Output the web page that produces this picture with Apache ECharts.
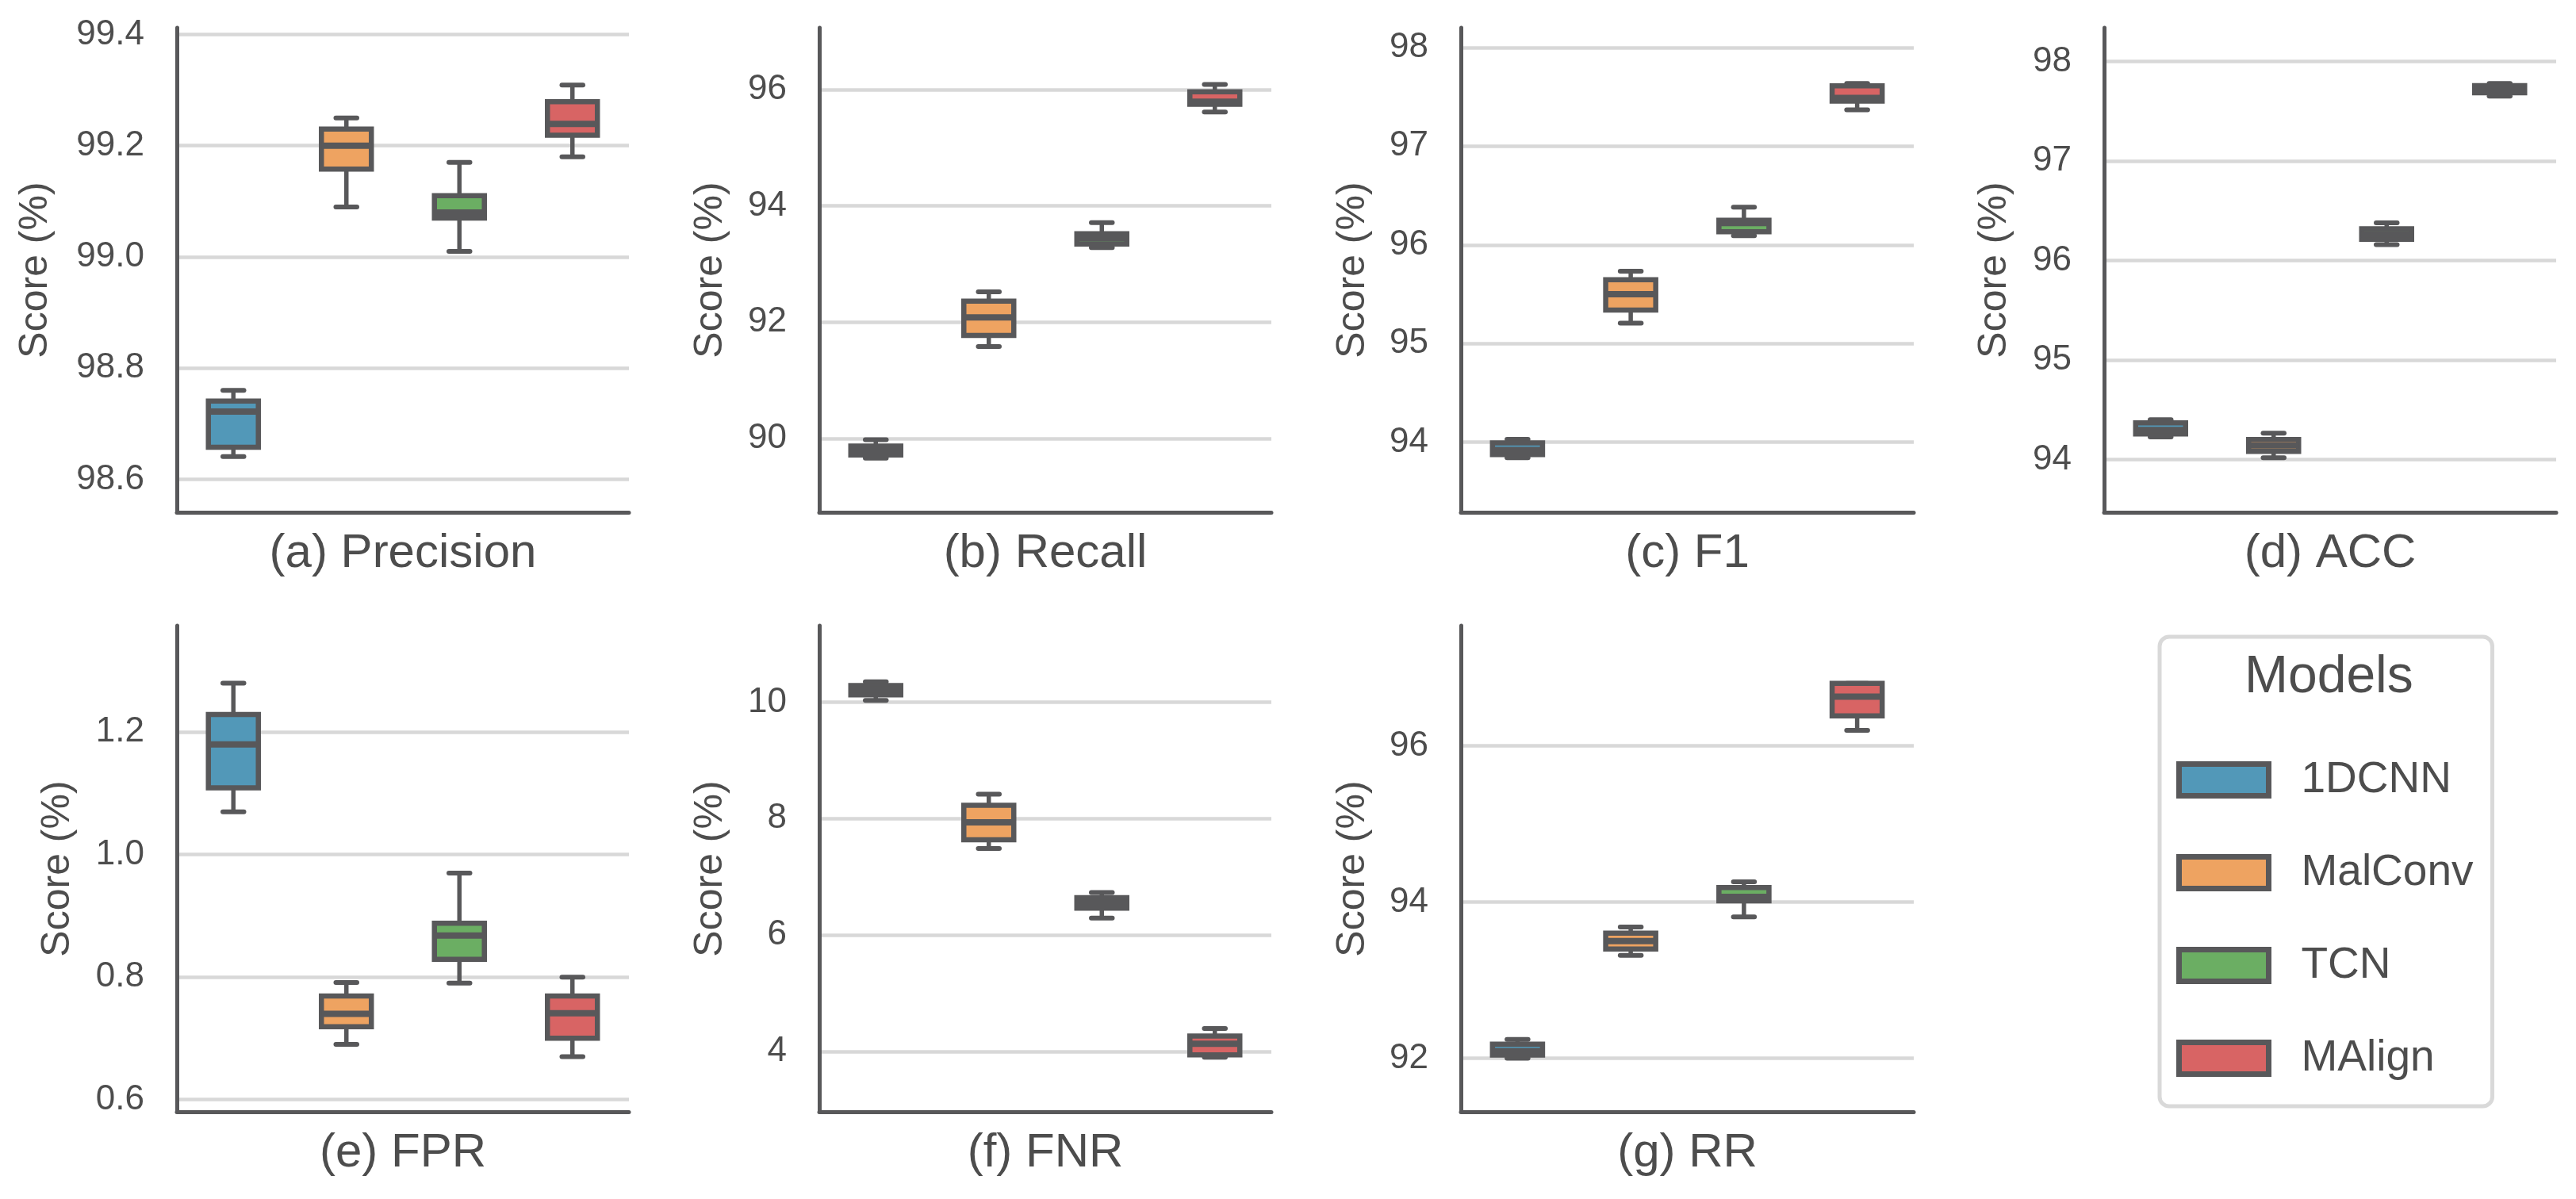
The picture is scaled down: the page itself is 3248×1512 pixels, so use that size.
<!DOCTYPE html>
<html><head><meta charset="utf-8">
<script src="https://cdn.jsdelivr.net/npm/echarts@6/dist/echarts.min.js"></script>
<style>html,body{margin:0;padding:0;background:#fff}#c{width:3248px;height:1512px}</style>
</head><body><div id="c"></div>
<script>
// ---------- DATA ----------
const models = ['1DCNN', 'MalConv', 'TCN', 'MAlign'];
// each row: [low whisker, Q1, median, Q3, high whisker]
const precision = [
  [98.641, 98.658, 98.722, 98.741, 98.760],
  [99.090, 99.158, 99.200, 99.230, 99.250],
  [99.010, 99.070, 99.080, 99.110, 99.170],
  [99.180, 99.219, 99.239, 99.279, 99.309]
];
const recall = [
  [89.66, 89.715, 89.78, 89.87, 89.976],
  [91.58, 91.77, 92.08, 92.36, 92.52],
  [93.28, 93.34, 93.44, 93.52, 93.71],
  [95.61, 95.745, 95.79, 95.96, 96.085]
];
const f1 = [
  [93.843, 93.875, 93.921, 93.993, 94.029],
  [95.207, 95.339, 95.500, 95.646, 95.732],
  [96.093, 96.132, 96.221, 96.250, 96.382],
  [97.368, 97.457, 97.489, 97.611, 97.636]
];
const acc = [
  [94.227, 94.258, 94.297, 94.369, 94.401],
  [94.018, 94.082, 94.142, 94.202, 94.266],
  [96.160, 96.213, 96.266, 96.320, 96.380],
  [97.652, 97.687, 97.723, 97.758, 97.780]
];
const fpr = [
  [1.070, 1.109, 1.180, 1.229, 1.280],
  [0.690, 0.719, 0.740, 0.769, 0.791],
  [0.790, 0.829, 0.868, 0.888, 0.970],
  [0.670, 0.700, 0.741, 0.769, 0.800]
];
const fnr = [
  [10.032, 10.127, 10.222, 10.286, 10.349],
  [7.486, 7.638, 7.937, 8.229, 8.419],
  [6.292, 6.463, 6.550, 6.641, 6.730],
  [3.900, 3.943, 4.133, 4.266, 4.394]
];
const rr = [
  [92.00, 92.04, 92.09, 92.18, 92.24],
  [93.316, 93.397, 93.50, 93.60, 93.68],
  [93.81, 94.014, 94.066, 94.185, 94.258],
  [96.199, 96.383, 96.63, 96.80, 96.80]
];
const precisionTicks = [98.6, 98.8, 99.0, 99.2, 99.4];
const recallTicks = [90, 92, 94, 96];
const f1Ticks = [94, 95, 96, 97, 98];
const accTicks = [94, 95, 96, 97, 98];
const fprTicks = [0.6, 0.8, 1.0, 1.2];
const fnrTicks = [4, 6, 8, 10];
const rrTicks = [92, 94, 96];
const precisionRange = [98.541, 99.412];
const recallRange = [88.73, 97.06];
const f1Range = [93.29, 98.20];
const accRange = [93.47, 98.34];
const fprRange = [0.580, 1.374];
const fnrRange = [2.965, 11.314];
const rrRange = [91.314, 97.538];
const panelTitles = ['(a) Precision', '(b) Recall', '(c) F1', '(d) ACC', '(e) FPR', '(f) FNR', '(g) RR'];
const yAxisName = 'Score (%)';
const legendTitle = 'Models';

// ---------- STYLE / LAYOUT ----------
const colors = ['#5298b8', '#eea361', '#6bae63', '#d86464'];
const ink = '#58585a';
const textColor = '#4d4d4d';
const gridColor = '#d8d8d8';
const FONT = 'Liberation Sans, Arial, Helvetica, sans-serif';

const panels = [
  { stats: precision, ticks: precisionTicks, range: precisionRange, dec: 1, left: 223, top: 35, width: 570, height: 611, nameGap: 153 },
  { stats: recall, ticks: recallTicks, range: recallRange, dec: 0, left: 1033, top: 35, width: 570, height: 611, nameGap: 112 },
  { stats: f1, ticks: f1Ticks, range: f1Range, dec: 0, left: 1842, top: 35, width: 571, height: 611, nameGap: 111 },
  { stats: acc, ticks: accTicks, range: accRange, dec: 0, left: 2653, top: 35, width: 570, height: 611, nameGap: 113 },
  { stats: fpr, ticks: fprTicks, range: fprRange, dec: 1, left: 223, top: 789, width: 570, height: 613, nameGap: 125 },
  { stats: fnr, ticks: fnrTicks, range: fnrRange, dec: 0, left: 1033, top: 789, width: 570, height: 613, nameGap: 112 },
  { stats: rr, ticks: rrTicks, range: rrRange, dec: 0, left: 1842, top: 789, width: 571, height: 613, nameGap: 111 }
];

function renderBox(params, api) {
  const x = api.value(0);
  const lo = api.coord([x, api.value(1)]);
  const q1 = api.coord([x, api.value(2)]);
  const md = api.coord([x, api.value(3)]);
  const q3 = api.coord([x, api.value(4)]);
  const hi = api.coord([x, api.value(5)]);
  const band = api.size([1, 0])[0];
  const bw = band * 0.442;
  const cw = bw * 0.5 - 5;
  const cx = lo[0];
  const fill = api.visual('color');
  const wl = { stroke: ink, lineWidth: 6, lineCap: 'round' };
  return {
    type: 'group',
    children: [
      { type: 'line', shape: { x1: cx, y1: q3[1], x2: cx, y2: hi[1] }, style: { stroke: ink, lineWidth: 5.5 } },
      { type: 'line', shape: { x1: cx, y1: lo[1], x2: cx, y2: q1[1] }, style: { stroke: ink, lineWidth: 5.5 } },
      { type: 'line', shape: { x1: cx - cw / 2, y1: hi[1], x2: cx + cw / 2, y2: hi[1] }, style: wl },
      { type: 'line', shape: { x1: cx - cw / 2, y1: lo[1], x2: cx + cw / 2, y2: lo[1] }, style: wl },
      { type: 'rect', shape: { x: cx - bw / 2, y: q3[1], width: bw, height: q1[1] - q3[1] }, style: { fill: fill, stroke: ink, lineWidth: 6.5 } },
      { type: 'line', shape: { x1: cx - bw / 2, y1: md[1], x2: cx + bw / 2, y2: md[1] }, style: { stroke: ink, lineWidth: 8 } }
    ]
  };
}

const grids = [], xAxes = [], yAxes = [], series = [];
panels.forEach((p, i) => {
  grids.push({ left: p.left, top: p.top, width: p.width, height: p.height, containLabel: false });
  xAxes.push({
    type: 'category', gridIndex: i, data: models,
    axisLine: { show: true, onZero: false, lineStyle: { color: ink, width: 5 } },
    axisTick: { show: false }, axisLabel: { show: false }, splitLine: { show: false },
    name: panelTitles[i], nameLocation: 'middle', nameGap: 22,
    nameTextStyle: { fontSize: 60, color: textColor, fontFamily: FONT }
  });
  yAxes.push({
    type: 'value', gridIndex: i, min: p.range[0], max: p.range[1],
    axisLine: { show: true, onZero: false, lineStyle: { color: ink, width: 5 } },
    axisTick: { show: false, customValues: p.ticks },
    axisLabel: {
      customValues: p.ticks, margin: 41, fontSize: 44, color: textColor, fontFamily: FONT,
      formatter: (v) => Number(v).toFixed(p.dec)
    },
    splitLine: { show: true, lineStyle: { color: gridColor, width: 4.5 } },
    name: yAxisName, nameLocation: 'middle', nameGap: p.nameGap,
    nameTextStyle: { fontSize: 50, color: textColor, fontFamily: FONT }
  });
  models.forEach((m, k) => {
    series.push({
      type: 'custom', name: m, xAxisIndex: i, yAxisIndex: i,
      itemStyle: { color: colors[k] },
      renderItem: renderBox,
      encode: { x: 0, y: [1, 2, 3, 4, 5] },
      data: [[k].concat(p.stats[k])],
      silent: true
    });
  });
});

const chart = echarts.init(document.getElementById('c'), null, { renderer: 'canvas' });
chart.setOption({
  backgroundColor: '#ffffff',
  animation: false,
  textStyle: { fontFamily: FONT },
  grid: grids, xAxis: xAxes, yAxis: yAxes, series: series,
  legend: {
    orient: 'vertical', left: 2723, top: 803,
    data: models,
    padding: [153, 24, 33, 21],
    icon: 'rect', itemWidth: 113, itemHeight: 40, itemGap: 62,
    itemStyle: { borderColor: ink, borderWidth: 7 },
    textStyle: { fontSize: 55, color: textColor, fontFamily: FONT, padding: [0, 0, 0, 36] },
    borderColor: '#d9d9d9', borderWidth: 5, borderRadius: 12,
    backgroundColor: 'transparent',
    selectedMode: false
  },
  graphic: [{
    type: 'text', left: 2937 - 107, top: 822, z: 100,
    style: { text: legendTitle, fontSize: 66, fill: textColor, fontFamily: FONT }
  }]
});
</script></body></html>
